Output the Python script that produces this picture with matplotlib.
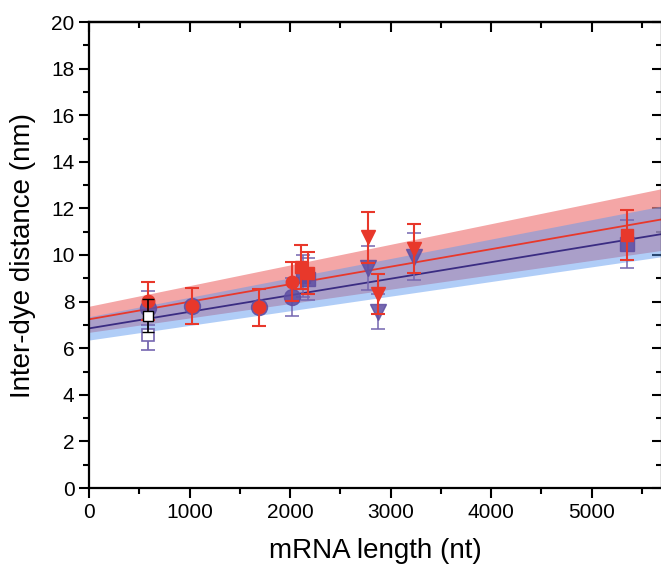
import numpy as np
import matplotlib
matplotlib.use('Agg')
import matplotlib.pyplot as plt
from matplotlib.ticker import MultipleLocator

plt.rcParams['font.family'] = ['Liberation Sans', 'DejaVu Sans']

# red data set
red_circ_x = [583, 1028, 1692, 2017]
red_circ_y = [8.03, 7.81, 7.75, 8.86]
red_circ_e = [0.8, 0.79, 0.79, 0.85]
red_sq_x = [2110, 2179, 5350]
red_sq_y = [9.47, 9.24, 10.86]
red_sq_e = [0.95, 0.9, 1.08]
red_tri_x = [2779, 2872, 3237]
red_tri_y = [10.76, 8.33, 10.26]
red_tri_e = [1.1, 0.85, 1.05]

# blue data set
blue_circ_x = [583, 1028, 1692, 2017]
blue_circ_y = [7.72, 7.81, 7.75, 8.2]
blue_circ_e = [0.73, 0.79, 0.79, 0.8]
blue_sq_x = [2126, 2179, 5350]
blue_sq_y = [9.1, 8.97, 10.46]
blue_sq_e = [0.9, 0.9, 1.03]
blue_tri_x = [2779, 2872, 3237]
blue_tri_y = [9.43, 7.57, 9.93]
blue_tri_e = [0.95, 0.75, 1.0]

# open squares
open_blk_x, open_blk_y, open_blk_e = [583], [7.4], [0.72]
open_blu_x, open_blu_y, open_blu_e = [583], [6.57], [0.65]

# fits + confidence bands (ends)
fit_x = [0, 5700]
red_fit = [7.24, 11.53]
red_lo = [6.68, 10.2]
red_hi = [7.8, 12.85]
blue_fit = [6.85, 10.9]
blue_lo = [6.35, 9.93]
blue_hi = [7.35, 12.1]

RED = '#E8382B'
PUR = '#5E4EA2'
PUR_E = '#7566B0'
NAVY = '#3A2C82'

fig = plt.figure(figsize=(6.61, 5.69), dpi=100)
ax = fig.add_axes([89/661, 81/569, 573/661, 466/569])

ax.fill_between(fit_x, red_lo, red_hi, color='#F08080', alpha=0.7, lw=0, zorder=1)
ax.fill_between(fit_x, blue_lo, blue_hi, color='#5A98F0', alpha=0.48, lw=0, zorder=1)
ax.plot(fit_x, blue_fit, color=NAVY, lw=1.3, zorder=2)
ax.plot(fit_x, red_fit, color=RED, lw=1.3, zorder=2)

bkw = dict(ls='none', ecolor=PUR_E, elinewidth=1.3, capsize=5, capthick=1.3,
           mfc=PUR, mec=PUR, alpha=0.85, zorder=3)
ax.errorbar(blue_circ_x, blue_circ_y, yerr=blue_circ_e, marker='o', ms=11.5, **bkw)
ax.errorbar(blue_sq_x, blue_sq_y, yerr=blue_sq_e, marker='s', ms=10, **bkw)
ax.errorbar(blue_tri_x, blue_tri_y, yerr=blue_tri_e, marker='v', ms=12, **bkw)
ax.errorbar(open_blu_x, open_blu_y, yerr=open_blu_e, marker='s', ms=9, ls='none',
            mfc='white', mec=PUR_E, mew=1.2, ecolor=PUR_E, elinewidth=1.3,
            capsize=5, capthick=1.3, zorder=3)

rkw = dict(ls='none', ecolor=RED, elinewidth=1.5, capsize=5, capthick=1.5,
           mfc=RED, mec=RED, zorder=4)
ax.errorbar(red_circ_x, red_circ_y, yerr=red_circ_e, marker='o', ms=9, **rkw)
ax.errorbar(red_sq_x, red_sq_y, yerr=red_sq_e, marker='s', ms=8, **rkw)
ax.errorbar(red_tri_x, red_tri_y, yerr=red_tri_e, marker='v', ms=10, **rkw)
ax.errorbar(open_blk_x, open_blk_y, yerr=open_blk_e, marker='s', ms=6.5, ls='none',
            mfc='white', mec='black', mew=1.0, ecolor='black', elinewidth=1.2,
            capsize=4, capthick=1.2, zorder=5)

ax.set_xlim(0, 5700)
ax.set_ylim(0, 20)
ax.xaxis.set_major_locator(MultipleLocator(1000))
ax.xaxis.set_minor_locator(MultipleLocator(500))
ax.yaxis.set_major_locator(MultipleLocator(2))
ax.yaxis.set_minor_locator(MultipleLocator(1))

for s in ax.spines.values():
    s.set_linewidth(1.6)
ax.tick_params(which='major', direction='out', length=7, width=1.5, labelsize=15)
ax.tick_params(which='minor', direction='out', length=4, width=1.5)

top = ax.secondary_xaxis('top')
top.xaxis.set_major_locator(MultipleLocator(1000))
top.xaxis.set_minor_locator(MultipleLocator(500))
top.tick_params(which='major', direction='in', length=7, width=1.5, labeltop=False)
top.tick_params(which='minor', direction='in', length=4, width=1.5)
top.spines['top'].set_linewidth(1.6)

right = ax.secondary_yaxis('right')
right.yaxis.set_major_locator(MultipleLocator(2))
right.yaxis.set_minor_locator(MultipleLocator(1))
right.tick_params(which='major', direction='in', length=7, width=1.5, labelright=False)
right.tick_params(which='minor', direction='in', length=4, width=1.5)

ax.set_xlabel('mRNA length (nt)', fontsize=20, labelpad=12)
ax.set_ylabel('Inter-dye distance (nm)', fontsize=20, labelpad=11)

fig.savefig('out.png', dpi=100)
